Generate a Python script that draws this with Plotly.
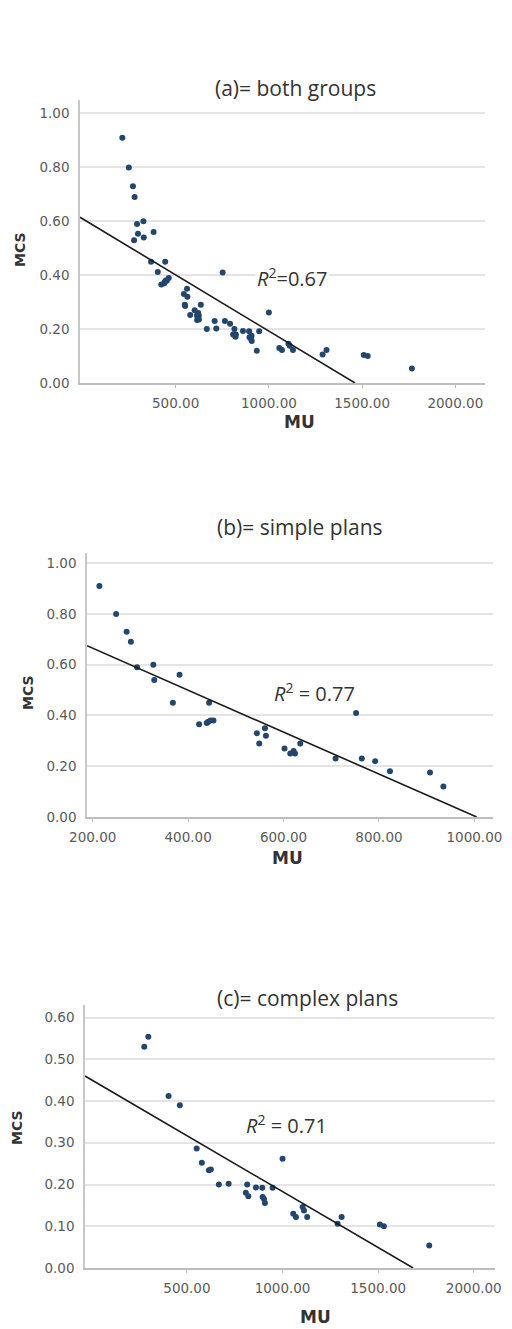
import plotly.graph_objects as go

# ---------------- data ----------------
simple_mu = [214, 249, 271, 280, 293, 327, 329, 368, 382, 423, 439, 442, 444, 447, 453,
             544, 549, 561, 563, 602, 614, 621, 624, 635, 709, 752, 764, 792, 823, 907, 935]
simple_mcs = [0.91, 0.80, 0.73, 0.69, 0.59, 0.60, 0.54, 0.45, 0.56, 0.365, 0.37, 0.375, 0.45, 0.38, 0.38,
              0.33, 0.29, 0.35, 0.32, 0.27, 0.25, 0.26, 0.25, 0.29, 0.23, 0.41, 0.23, 0.22, 0.18, 0.175, 0.12]

complex_mu = [277, 298, 404, 463, 551, 578, 615, 625, 667, 718, 815, 808, 821, 861, 894,
              896, 908, 903, 948, 1000, 1056, 1070, 1105, 1112, 1129, 1288, 1309, 1509, 1530, 1767]
complex_mcs = [0.53, 0.554, 0.412, 0.39, 0.286, 0.252, 0.234, 0.236, 0.20, 0.202, 0.20, 0.18, 0.172, 0.193, 0.192,
               0.17, 0.156, 0.165, 0.192, 0.262, 0.13, 0.122, 0.146, 0.138, 0.122, 0.106, 0.122, 0.104, 0.10, 0.054]

both_mu = simple_mu + complex_mu
both_mcs = simple_mcs + complex_mcs

panel_titles = ["(a)= both groups", "(b)= simple plans", "(c)= complex plans"]
r2_labels = ["=0.67", " = 0.77", " = 0.71"]
fit_intercept = [0.6096, 0.830, 0.451]
fit_slope = [-0.000417, -0.000826, -0.000268]

x_ranges = [[-13, 2159], [188, 1039], [-33, 2111]]
y_ranges = [[0, 1.05], [0, 1.04], [0, 0.63]]
x_ticks = [[500, 1000, 1500, 2000], [200, 400, 600, 800, 1000], [500, 1000, 1500, 2000]]
y_ticks = [[0, 0.2, 0.4, 0.6, 0.8, 1.0], [0, 0.2, 0.4, 0.6, 0.8, 1.0], [0, 0.1, 0.2, 0.3, 0.4, 0.5, 0.6]]

# ---------------- layout geometry (pixels) ----------------
W, H = 512, 1329
plot_px = [  # left, right, top, bottom
    (80, 485, 100, 383),
    (87, 493, 553, 817),
    (85, 495, 1005, 1268),
]
title_px = [(295, 88), (300, 527), (307, 998)]
mu_px = [(299, 422), (287, 858), (315, 1317)]
mcs_px = [(20, 250), (28, 693), (17, 1128)]
r2_pos = [(1124, 0.39), (664, 0.49), (1023, 0.343)]

MARK = "#23466e"
TICK_FONT = dict(family="DejaVu Sans", size=13.5, color="#5a5a5a")

fig = go.Figure()
series = [(both_mu, both_mcs), (simple_mu, simple_mcs), (complex_mu, complex_mcs)]

layout = dict(
    width=W, height=H, margin=dict(l=0, r=0, t=0, b=0, autoexpand=False),
    paper_bgcolor="white", plot_bgcolor="white", showlegend=False,
    annotations=[],
)

for i, (mu, mcs) in enumerate(series):
    sfx = "" if i == 0 else str(i + 1)
    xa, ya = "x" + sfx, "y" + sfx
    fig.add_trace(go.Scatter(x=mu, y=mcs, mode="markers", xaxis=xa, yaxis=ya,
                             marker=dict(color=MARK, size=6)))
    x0 = x_ranges[i][0]
    x1 = -fit_intercept[i] / fit_slope[i]
    fig.add_trace(go.Scatter(x=[x0, x1],
                             y=[fit_intercept[i] + fit_slope[i] * x0, fit_intercept[i] + fit_slope[i] * x1],
                             mode="lines", xaxis=xa, yaxis=ya,
                             line=dict(color="#1a1a1a", width=1.6)))
    l, r, t, b = plot_px[i]
    layout["xaxis" + sfx] = dict(
        domain=[l / W, r / W], anchor=ya, range=x_ranges[i], automargin=False,
        tickvals=x_ticks[i], tickformat=".2f", tickfont=TICK_FONT,
        showgrid=False, zeroline=False, showline=True, linecolor="#bdbdbd", linewidth=1.5,
        ticks="outside", ticklen=3, tickcolor="#bdbdbd", ticklabelstandoff=4,
    )
    layout["yaxis" + sfx] = dict(
        domain=[1 - b / H, 1 - t / H], anchor=xa, range=y_ranges[i], automargin=False,
        tickvals=y_ticks[i], tickformat=".2f", tickfont=TICK_FONT,
        showgrid=True, gridcolor="#e4e4e4", gridwidth=1.5, zeroline=False,
        showline=True, linecolor="#c8c8c8", linewidth=1.5, ticks="", ticklabelstandoff=6,
    )
    tx, ty = title_px[i]
    layout["annotations"].append(dict(
        text=panel_titles[i], xref="paper", yref="paper", x=tx / W, y=1 - ty / H,
        xanchor="center", yanchor="middle", showarrow=False,
        font=dict(family="Open Sans", size=21, color="#333333")))
    mx, my = mu_px[i]
    layout["annotations"].append(dict(
        text="<b>MU</b>", xref="paper", yref="paper", x=mx / W, y=1 - my / H,
        xanchor="center", yanchor="middle", showarrow=False,
        font=dict(family="DejaVu Sans", size=17, color="#333333")))
    cx, cy = mcs_px[i]
    layout["annotations"].append(dict(
        text="<b>MCS</b>", xref="paper", yref="paper", x=cx / W, y=1 - cy / H,
        xanchor="center", yanchor="middle", showarrow=False, textangle=-90,
        font=dict(family="DejaVu Sans", size=14, color="#333333")))
    rx, ry = r2_pos[i]
    layout["annotations"].append(dict(
        text="<i>R</i><sup>2</sup>" + r2_labels[i], xref=xa, yref=ya, x=rx, y=ry,
        xanchor="center", yanchor="middle", showarrow=False, bgcolor="white",
        font=dict(family="Open Sans", size=20, color="#333333")))

fig.update_layout(**layout)
fig.write_html("out.html", config={"displayModeBar": False},
               post_script="document.body.style.margin='0';document.body.style.overflow='hidden';")
